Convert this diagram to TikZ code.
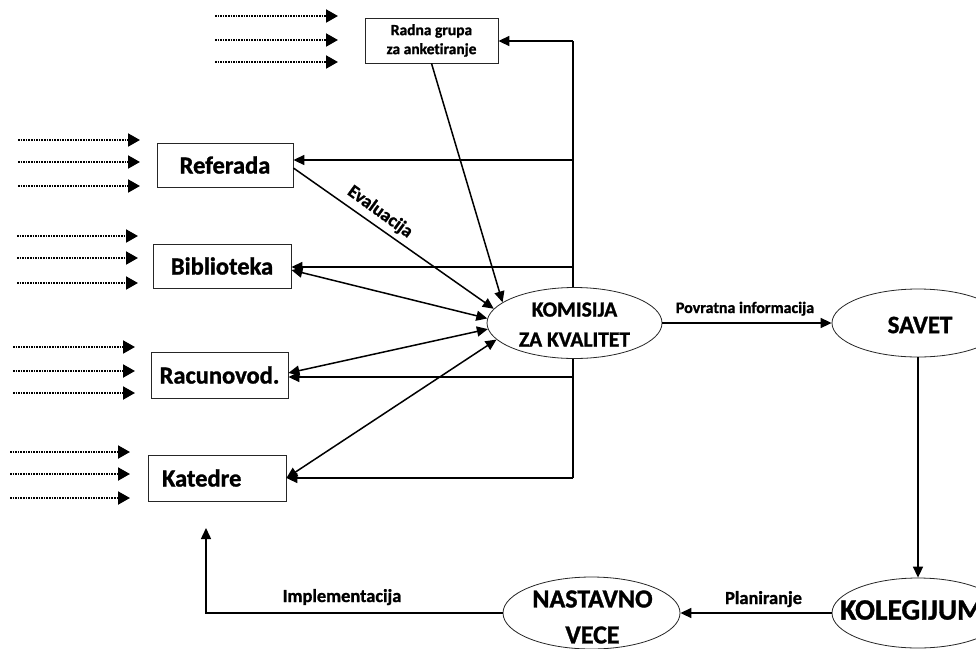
\documentclass[tikz,border=0pt]{standalone}
\usepackage{fontspec}
\setmainfont{Carlito}[Ligatures=NoCommon, BoldFeatures={FakeBold=1.2}]
\usetikzlibrary{arrows.meta,shapes.geometric}
\tikzset{
  box/.style={draw=black!85, line width=0.8pt, rectangle, inner sep=0pt, fill=white,
    font=\bfseries\fontsize{24.5}{28}\selectfont},
  oval/.style={draw=black!85, line width=0.8pt, ellipse, fill=white, inner sep=0pt},
  bigtxt/.style={align=center, inner sep=0pt},
  lbl/.style={inner sep=0pt, font=\bfseries\fontsize{18.4}{20}\selectfont},
  conn/.style={line width=1.5pt},
  arr/.style={conn, -{Triangle[length=11pt,width=10pt]}},
  darr/.style={conn, {Triangle[length=11pt,width=10pt]}-{Triangle[length=11pt,width=10pt]}},
  dotarr/.style={line width=2pt, dash pattern=on 1.5pt off 1.1pt, -{Triangle[length=12pt,width=13pt]}},
}
\begin{document}
\begin{tikzpicture}[x=1pt,y=-1pt]
\path[use as bounding box] (0,0) rectangle (976,648);
\clip (0,0) rectangle (976,648);

% feedback bus (behind the ellipse)
\coordinate (b0) at (573,41);
\coordinate (b1) at (573,160);
\coordinate (b2) at (573,267);
\coordinate (b3) at (573,377);
\coordinate (b4) at (573,478);
\draw[conn] (b0) -- (b4);

% boxes
\node[box, minimum width=133pt, minimum height=45pt, align=center,
  font=\bfseries\fontsize{15.5}{19}\selectfont] (radna) at (431.5,40.5) {Radna grupa\\za anketiranje};
\node[box, minimum width=136pt, minimum height=44pt] (ref) at (225,165) {Referada};
\node[box, minimum width=138pt, minimum height=44pt] (bib) at (222,266) {Biblioteka};
\node[box, minimum width=137pt, minimum height=46pt] (rac) at (219.5,375) {Racunovod.};
\node[box, minimum width=138pt, minimum height=46pt, text width=110pt, align=left] (kat) at (217,478) {Katedre};

% ellipses
\node[oval, minimum width=175pt, minimum height=71pt] (kom) at (574.5,323) {};
\node[bigtxt, font=\bfseries\fontsize{21.5}{30}\selectfont] (komtxt) at (574.5,324.5) {KOMISIJA\\ZA KVALITET};
\node[oval, minimum width=172pt, minimum height=68pt] (savet) at (918,323) {};
\node[bigtxt, font=\bfseries\fontsize{25}{30}\selectfont] (savettxt) at (920,325) {SAVET};
\node[oval, minimum width=172pt, minimum height=70pt] (kol) at (918,613) {};
\node[bigtxt, anchor=west, font=\bfseries\fontsize{29.5}{34}\selectfont] (koltxt) at (840,610) {KOLEGIJUM};
\node[oval, minimum width=177pt, minimum height=72pt] (nast) at (591.5,613) {};
\node[bigtxt, font=\bfseries\fontsize{26}{36}\selectfont] (nasttxt) at (592.5,617) {NASTAVNO\\VECE};

% dotted input arrows
\foreach \n/\xa/\xb/\y in {
  t1/215/338/16, t2/215/338/40, t3/215/338/62,
  r1/18/140/140, r2/18/140/162, r3/18/140/186,
  b1/17/138/236, b2/17/138/258, b3/17/138/283,
  c1/13/135/347, c2/13/135/371, c3/13/135/393,
  k1/10/130/452, k2/10/130/474, k3/10/130/498}{
  \coordinate (d\n s) at (\xa,\y);
  \coordinate (d\n e) at (\xb,\y);
  \draw[dotarr] (d\n s) -- (d\n e);
}

% feedback branches
\draw[arr] (b0) -- (radna.east |- b0);
\draw[arr] (b1) -- (ref.east |- b1);
\draw[arr] (b2) -- (bib.east |- b2);
\draw[arr] (b3) -- (rac.east |- b3);
\draw[arr] (b4) -- (kat.east |- b4);

% evaluation arrows into the commission
\draw[arr] (radna.south) -- (kom.164);
\draw[arr] ([yshift=-3pt]ref.east) -- (kom.170);
\draw[darr] ([yshift=-4pt]bib.east) -- (kom.177);
\draw[darr] ([yshift=2pt]rac.east) -- (kom.184);
\draw[darr] (kat.east) -- (kom.192);
\node[lbl, rotate=-36] (eval) at (380,212) {Evaluacija};

% main cycle
\draw[arr] (kom.east) -- (savet.west);
\node[lbl, anchor=base, font=\bfseries\fontsize{16}{18}\selectfont] (povr) at (745,313) {Povratna informacija};
\draw[arr] (savet.south) -- (kol.north);
\draw[arr] (kol.west) -- (nast.east);
\node[lbl, anchor=base] (plan) at (763.5,604) {Planiranje};
\coordinate (impl) at (206,528);
\draw[arr] (nast.west) -| (impl);
\node[lbl, anchor=base] (impltxt) at (342,602) {Implementacija};
\end{tikzpicture}
\end{document}
